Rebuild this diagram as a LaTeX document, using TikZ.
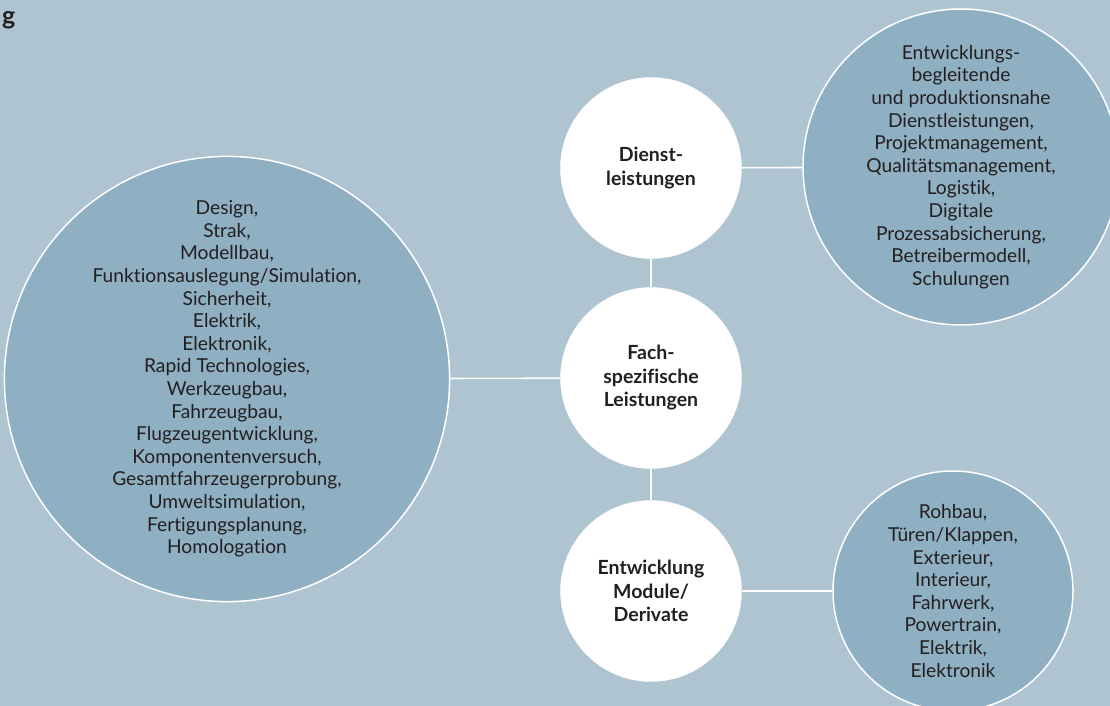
\documentclass[tikz,border=0pt]{standalone}
\usepackage{fontspec}
\setmainfont{Lato}[Ligatures={NoCommon}]
\definecolor{bg}{RGB}{174,196,208}
\definecolor{cfill}{RGB}{143,176,194}
\definecolor{txt}{RGB}{35,31,32}
\begin{document}
\begin{tikzpicture}[x=1pt,y=-1pt,
  bigc/.style={circle,draw=white,line width=1.5pt,fill=cfill,inner sep=0pt,align=center,text=txt,
    font=\fontsize{19.2}{22.6}\selectfont},
  whitec/.style={circle,draw=white,fill=white,inner sep=0pt,minimum size=181pt,align=center,text=txt,
    font=\fontsize{19.5}{23.5}\selectfont\bfseries},
  conn/.style={draw=white,line width=1.6pt}]
\fill[bg] (0,0) rectangle (1110,706);
\useasboundingbox (0,0) rectangle (1110,706);
\node[anchor=west,text=txt,font=\fontsize{25}{28}\selectfont\bfseries,inner sep=0pt] (hd) at (2,20) {g};
\node[bigc,minimum size=422pt] (big) at (227,379) {Design,\\Strak,\\Modellbau,\\Funktionsauslegung/Simulation,\\Sicherheit,\\Elektrik,\\Elektronik,\\Rapid Technologies,\\Werkzeugbau,\\Fahrzeugbau,\\Flugzeugentwicklung,\\Komponentenversuch,\\Gesamtfahrzeugerprobung,\\Umweltsimulation,\\Fertigungsplanung,\\Homologation};
\node[bigc,minimum size=316pt] (rt) at (961,167) {Entwicklungs-\\begleitende\\und produktionsnahe\\Dienstleistungen,\\Projektmanagement,\\Qualitätsmanagement,\\Logistik,\\Digitale\\Prozessabsicherung,\\Betreibermodell,\\Schulungen};
\node[bigc,minimum size=240pt] (rb) at (953,591) {Rohbau,\\Türen/Klappen,\\Exterieur,\\Interieur,\\Fahrwerk,\\Powertrain,\\Elektrik,\\Elektronik};
\node[whitec] (dl) at (651,168) {Dienst-\\leistungen};
\node[whitec] (fl) at (651,378) {Fach-\\spezifische\\Leistungen};
\node[whitec] (em) at (651,591) {Entwicklung\\Module/\\Derivate};
\draw[conn] (big) -- (fl);
\draw[conn] (dl) -- (fl);
\draw[conn] (fl) -- (em);
\draw[conn] (dl) -- (rt);
\draw[conn] (em) -- (rb);
\end{tikzpicture}
\end{document}
